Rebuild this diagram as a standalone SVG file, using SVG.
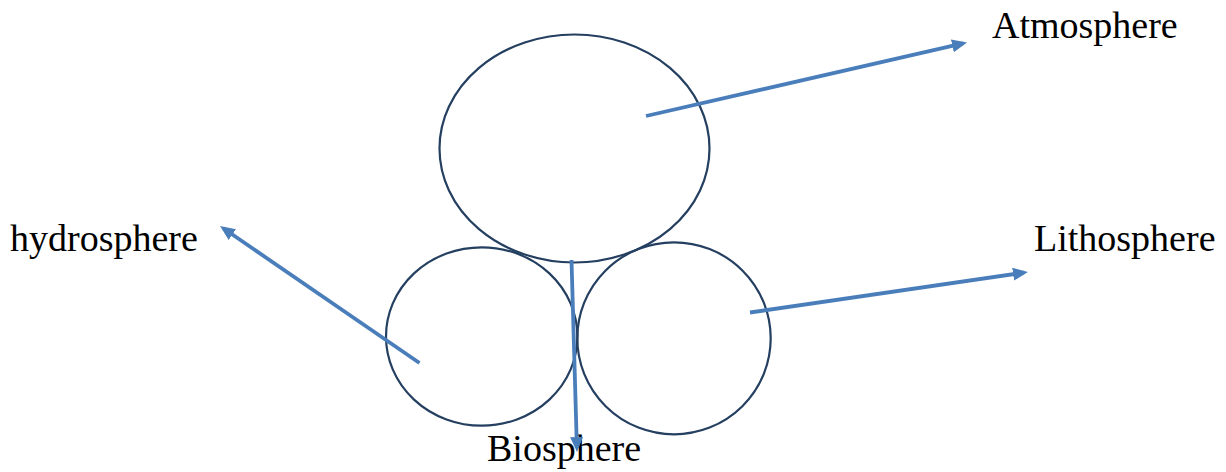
<svg xmlns="http://www.w3.org/2000/svg" width="1226" height="472" viewBox="0 0 1226 472">
  <style>
    .sphere { fill: none; stroke: #243f60; stroke-width: 2.2; }
    .link { fill: none; stroke: #4a7ebb; stroke-width: 3.8; }
    .label { font-family: "Liberation Serif", "Times New Roman", serif; font-size: 38px; fill: #000; }
  </style>
  <defs>
    <marker id="arrow" markerUnits="userSpaceOnUse" viewBox="0 -7 16 14" markerWidth="16" markerHeight="14" refX="11" refY="0" orient="auto">
      <path d="M0,-6.5 L15,0 L0,6.5 z" fill="#4a7ebb"/>
    </marker>
  </defs>
  <rect width="1226" height="472" fill="#fff"/>

  <g id="hydrosphere">
    <ellipse class="sphere" cx="481.7" cy="336.5" rx="95.7" ry="89.2"/>
    <text class="label" x="10" y="251">hydrosphere</text>
  </g>
  <g id="lithosphere">
    <ellipse class="sphere" cx="674" cy="338.3" rx="96.7" ry="96"/>
    <text class="label" x="1034" y="251">Lithosphere</text>
  </g>
  <g id="atmosphere">
    <ellipse class="sphere" cx="574.5" cy="148.5" rx="135" ry="114"/>
    <text class="label" x="992" y="38">Atmosphere</text>
  </g>
  <g id="biosphere">
    <text class="label" x="487" y="461">Biosphere</text>
  </g>

  <g id="connectors">
    <line class="link" x1="646" y1="116" x2="963.1" y2="43.4" marker-end="url(#arrow)"/>
    <line class="link" x1="419.5" y1="363" x2="223.3" y2="228.3" marker-end="url(#arrow)"/>
    <line class="link" x1="750" y1="312.5" x2="1024" y2="272.6" marker-end="url(#arrow)"/>
    <line class="link" x1="571.5" y1="260" x2="576.9" y2="448" marker-end="url(#arrow)"/>
  </g>
</svg>
